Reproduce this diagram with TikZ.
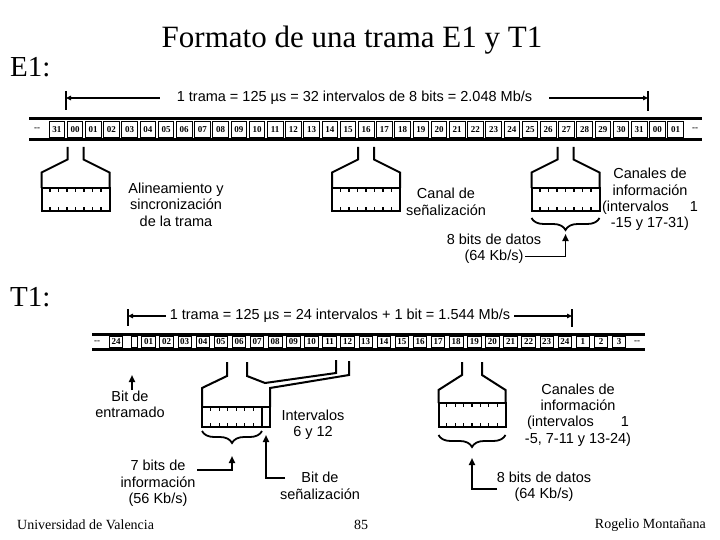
\documentclass[tikz,border=0pt]{standalone}
\usepackage{fontspec}
\setmainfont{Liberation Serif}
\setsansfont{Liberation Sans}
\usetikzlibrary{arrows.meta,decorations.pathreplacing}
\begin{document}
\begin{tikzpicture}[x=1pt,y=-1pt,
 every node/.style={inner sep=0pt},
 lbl/.style={font=\sffamily\fontsize{14.5}{16.4}\selectfont,align=center},
 celltxt/.style={font=\bfseries\fontsize{9}{9}\selectfont},
 ecell/.style={celltxt,draw,line width=0.9pt,minimum width=15.5pt,minimum height=16.5pt},
 tcell/.style={celltxt,draw,line width=0.9pt,minimum width=13.5pt,minimum height=11.5pt},
 bar/.style={line width=3pt},
 wall/.style={line width=2pt},
 bittick/.style={line width=1.2pt},
 dimtick/.style={line width=1.8pt},
 arr/.style={line width=1.8pt,-{Triangle[length=7pt,width=6pt]}},
 darr/.style={line width=1.2pt,-{Triangle[length=5pt,width=4.5pt]}},
 brc/.style={line width=1.8pt,decorate,decoration={brace,mirror,amplitude=12pt}},
 ]
\useasboundingbox[fill=white] (0,0) rectangle (720,540);

% titles
\node[font=\fontsize{31}{31}\selectfont] (title) at (352,40) {Formato de una trama E1 y T1};
\node[font=\fontsize{29}{29}\selectfont,anchor=west] (e1t) at (10,67) {E1:};
\node[font=\fontsize{29}{29}\selectfont,anchor=west] (t1t) at (10,297) {T1:};

% ---------------- E1 ----------------
\node[lbl,inner xsep=17pt] (e1dim) at (354.5,98) {1 trama = 125 µs = 32 intervalos de 8 bits = 2.048 Mb/s};
\coordinate (e1L) at (66,98);
\coordinate (e1R) at (648,98);
\draw[darr] (e1dim.west) -- (e1L);
\draw[darr] (e1dim.east) -- (e1R);
\draw[dimtick] (66,91) -- (66,110);
\draw[dimtick] (648,91) -- (648,111);

\draw[bar] (29,119) -- (702,119);
\draw[bar] (29,139.5) -- (702,139.5);
\node[celltxt] (Edl) at (37,129.3) {-{}-};
\node[celltxt] (Edr) at (695,129.3) {-{}-};
\foreach \lab [count=\i from 0] in {31,00,01,02,03,04,05,06,07,08,09,10,11,12,13,14,15,16,17,18,19,20,21,22,23,24,25,26,27,28,29,30,31,00,01}
  \node[ecell] (E\i) at ({56.8+18.2*\i},129.3) {\lab};

\foreach \c in {75.5,366,565.5} {
  \draw[wall] (\c-8,147) -- (\c-8,159.5) -- (\c-34,172.5) -- (\c-34,188);
  \draw[wall] (\c+8,147) -- (\c+8,159.5) -- (\c+34,172.5) -- (\c+34,188);
  \draw[wall] (\c-34,188) rectangle (\c+34,211);
  \foreach \k in {1,...,7} {
    \draw[bittick] ({\c-34+8.5*\k},188) -- ++(0,4);
    \draw[bittick] ({\c-34+8.5*\k},211) -- ++(0,-4);
  }
}
\draw[brc] (531.5,218) -- (599.5,218);
\coordinate (bt1) at (565.5,234);

\node[lbl] (alin) at (176,204.5) {Alineamiento y\\sincronización\\de la trama};
\node[lbl] (senal) at (446,202) {Canal de\\señalización};
\node[lbl] (canE) at (650,199.5) {Canales de\\información\\\makebox[96pt][l]{(intervalos\hfill 1}\\-15 y 17-31)};
\node[lbl] (datE) at (494,249) {8 bits de datos\\(64 Kb/s)};
\coordinate (datEs) at (525,256.5);
\draw[arr] (datEs) -| (bt1);

% ---------------- T1 ----------------
\node[lbl,inner xsep=4pt] (t1dim) at (340,316) {1 trama = 125 µs = 24 intervalos + 1 bit = 1.544 Mb/s};
\coordinate (t1L) at (128,316);
\coordinate (t1R) at (572,316);
\draw[darr] (t1dim.west) -- (t1L);
\draw[darr] (t1dim.east) -- (t1R);
\draw[dimtick] (128,309) -- (128,326);
\draw[dimtick] (572,309) -- (572,327);

\draw[bar] (92,334.5) -- (645,334.5);
\draw[bar] (92,349.5) -- (645,349.5);
\node[celltxt] (Tdl) at (97,342) {-{}-};
\node[tcell] (Tpre) at (116,342) {24};
\node[draw,line width=0.9pt,minimum width=5.5pt,minimum height=11.5pt] (TF) at (134.5,342) {};
\foreach \lab [count=\i from 0] in {01,02,03,04,05,06,07,08,09,10,11,12,13,14,15,16,17,18,19,20,21,22,23,24,1,2,3}
  \node[tcell] (T\i) at ({148.5+18.1*\i},342) {\lab};
\node[celltxt] (Tdr) at (637,342) {-{}-};

% framing bit arrow
\coordinate (fbA) at (132,390);
\coordinate (fbB) at (132,375);
\draw[arr] (fbA) -- (fbB);

% funnel for 6 and 12
\draw[wall] (227,362) -- (227,376) -- (202,388) -- (202,407);
\draw[wall] (247,362) -- (247,376) -- (265,383) -- (336,373) -- (336,360);
\draw[wall] (349,361) -- (349,375) -- (270,388) -- (270,407);
\draw[wall] (202,407) rectangle (270,427);
\draw[wall] (262,407) -- (262,427);
\foreach \k in {1,...,6} {
  \draw[bittick] ({202+60*\k/7},407) -- ++(0,4);
  \draw[bittick] ({202+60*\k/7},427) -- ++(0,-4);
}
\draw[brc] (202,431) -- (262,431);
\coordinate (bt2) at (232,456);
\coordinate (sgT) at (266,435);

% funnel for 19
\draw[wall] (462,362) -- (462,375) -- (438.5,390) -- (438.5,403);
\draw[wall] (482,362) -- (482,375) -- (505.5,390) -- (505.5,403);
\draw[wall] (438.5,403) rectangle (505.5,427);
\foreach \k in {1,...,7} {
  \draw[bittick] ({438.5+67*\k/8},403) -- ++(0,4);
  \draw[bittick] ({438.5+67*\k/8},427) -- ++(0,-4);
}
\draw[brc] (438.5,435) -- (505.5,435);
\coordinate (bt3) at (472,458);

\node[lbl] (bitE) at (130,404.5) {Bit de\\entramado};
\node[lbl] (intv) at (313,425) {Intervalos\\6 y 12};
\node[lbl] (info7) at (158,483.5) {7 bits de\\información\\(56 Kb/s)};
\node[lbl] (bitS) at (320,486) {Bit de\\señalización};
\node[lbl] (canT) at (578,415) {Canales de\\información\\\makebox[102pt][l]{(intervalos\hfill 1}\\-5, 7-11 y 13-24)};
\node[lbl] (datT) at (544,486.5) {8 bits de datos\\(64 Kb/s)};

\coordinate (i7s) at (197,470);
\draw[arr] (i7s) -| (bt2);
\coordinate (sgS) at (285,478);
\draw[arr] (sgS) -| (sgT);
\coordinate (dTs) at (497,489);
\draw[arr] (dTs) -| (bt3);

% footer
\node[font=\fontsize{14}{14}\selectfont,anchor=west] (univ) at (17,525) {Universidad de Valencia};
\node[font=\fontsize{14}{14}\selectfont] (pg) at (361,525) {85};
\node[font=\fontsize{14}{14}\selectfont,anchor=east] (auth) at (706,525) {Rogelio Montañana};
\end{tikzpicture}
\end{document}
